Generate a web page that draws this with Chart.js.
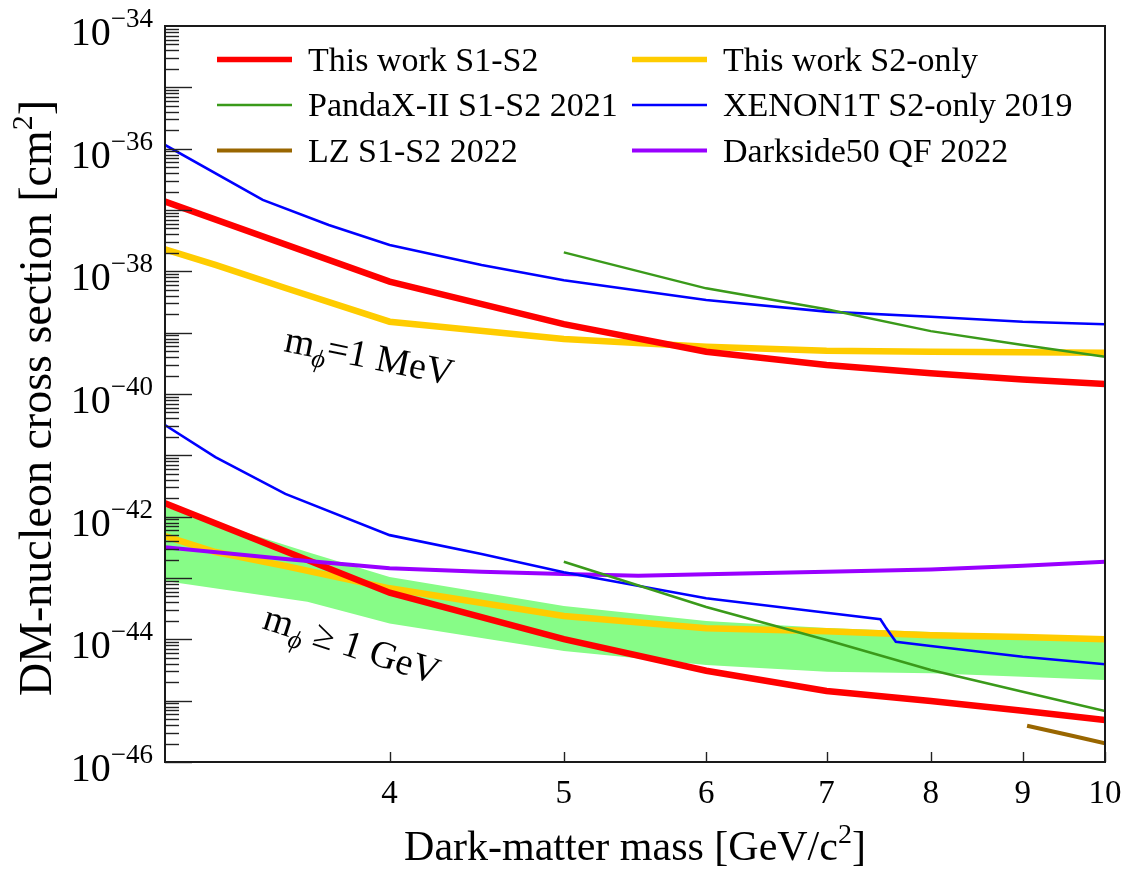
<!DOCTYPE html>
<html>
<head>
<meta charset="utf-8">
<script src="https://cdn.jsdelivr.net/npm/chart.js@4.4.0/dist/chart.umd.min.js"></script>
<style>
  html, body { margin: 0; padding: 0; background: #fff; }
  #wrap { width: 1130px; height: 875px; }
</style>
</head>
<body>
<div id="wrap"><canvas id="grafico" width="1130" height="875"></canvas></div>
<script>
// massas em GeV/c^2, secoes de choque em cm^2
const massaS1S2 = [3, 4, 5, 6, 7, 8, 9, 10];
const s1s2MeV = [1.37e-37, 6.8e-39, 1.38e-39, 4.89e-40, 2.96e-40, 2.17e-40, 1.73e-40, 1.45e-40];
const s1s2GeV = [1.65e-42, 5.75e-44, 1.01e-44, 3.08e-45, 1.44e-45, 9.86e-46, 6.86e-46, 4.83e-46];

const massaS2 = [3, 3.2, 3.5, 4, 5, 6, 7, 8, 9, 10];
const s2MeV = [2.29e-38, 1.27e-38, 5.35e-39, 1.51e-39, 7.87e-40, 5.9e-40, 5.08e-40, 4.89e-40, 4.8e-40, 4.71e-40];
const s2GeV = [4.83e-43, 2.65e-43, 1.57e-43, 6.79e-44, 2.4e-44, 1.51e-44, 1.36e-44, 1.17e-44, 1.09e-44, 1.0e-44];

const massaXenonMeV = [3, 3.4, 3.7, 4, 4.5, 5, 6, 7, 8, 9, 10];
const xenonMeV = [1.15e-36, 1.46e-37, 5.69e-38, 2.69e-38, 1.27e-38, 7.14e-39, 3.41e-39, 2.2e-39, 1.82e-39, 1.51e-39, 1.37e-39];
const massaXenonGeV = [3, 3.2, 3.5, 4, 4.5, 5, 6, 7, 7.5, 7.55, 7.65, 8, 9, 10];
const xenonGeV = [3.12e-41, 9.38e-42, 2.35e-42, 5.0e-43, 2.46e-43, 1.24e-43, 4.66e-44, 2.71e-44, 2.12e-44, 1.58e-44, 9.14e-45, 7.78e-45, 5.21e-45, 3.92e-45];

const massaPanda = [5, 6, 7, 8, 9, 10];
const pandaMeV = [2.04e-38, 5.28e-39, 2.4e-39, 1.06e-39, 6.29e-40, 4.06e-40];
const pandaGeV = [1.84e-43, 3.37e-44, 9.75e-45, 3.16e-45, 1.4e-45, 6.78e-46];

const massaLZ = [9.05, 9.6, 10];
const lzGeV = [3.9e-46, 2.65e-46, 2.01e-46];

const massaDS = [3, 3.5, 4, 4.5, 5, 5.5, 6, 7, 8, 9, 10];
const dsGeV = [3.16e-43, 2.04e-43, 1.44e-43, 1.26e-43, 1.16e-43, 1.09e-43, 1.15e-43, 1.26e-43, 1.38e-43, 1.58e-43, 1.84e-43];

// faixa de incerteza (m_phi >= 1 GeV)
const massaFaixa = [3, 3.6, 4, 5, 6, 7, 8, 9, 10];
const faixaSup = [1.44e-42, 2.65e-43, 1.04e-43, 3.49e-44, 1.99e-44, 1.53e-44, 1.32e-44, 1.17e-44, 1.09e-44];
const faixaInf = [8.93e-44, 4.1e-44, 1.82e-44, 6.45e-45, 3.81e-45, 2.96e-45, 2.79e-45, 2.46e-45, 2.17e-45];

// eixos
const xTicks = [4, 5, 6, 7, 8, 9, 10];
const yExpoentes = [-34, -36, -38, -40, -42, -44, -46];

const legendaItens = ['This work S1-S2', 'This work S2-only', 'PandaX-II S1-S2 2021',
  'XENON1T S2-only 2019', 'LZ S1-S2 2022', 'Darkside50 QF 2022'];

const serif = '"Liberation Serif", "DejaVu Serif", serif';

function pares(xs, ys) {
  return xs.map((x, i) => ({ x: x, y: ys[i] }));
}

function linha(label, xs, ys, cor, largura, ordem) {
  return {
    label: label,
    data: pares(xs, ys),
    borderColor: cor,
    backgroundColor: cor,
    borderWidth: largura,
    pointRadius: 0,
    tension: 0,
    fill: false,
    order: ordem
  };
}

// desenha texto com pedacos de tamanhos diferentes (expoentes etc)
function textoComposto(c, partes, x, y, alinhar) {
  let total = 0;
  partes.forEach(p => {
    c.font = p.fonte;
    p.w = c.measureText(p.t).width;
    total += p.w;
  });
  let px = x;
  if (alinhar === 'center') px = x - total / 2;
  if (alinhar === 'right') px = x - total;
  c.textAlign = 'left';
  partes.forEach(p => {
    c.font = p.fonte;
    c.fillText(p.t, px, y + (p.dy || 0));
    px += p.w;
  });
}

const desenhoEixos = {
  id: 'desenhoEixos',
  afterDraw(chart) {
    const c = chart.ctx;
    const a = chart.chartArea;
    const sx = chart.scales.x;
    const sy = chart.scales.y;
    c.save();

    // marcas do eixo y (decadas e subdivisoes)
    c.strokeStyle = '#222';
    c.lineWidth = 1.4;
    for (let n = -46; n < -34; n++) {
      for (let k = 1; k <= 9; k++) {
        const y = Math.round(sy.getPixelForValue(k * Math.pow(10, n))) + 0.5;
        const tam = k === 1 ? 27 : 14;
        c.beginPath();
        c.moveTo(a.left, y);
        c.lineTo(a.left + tam, y);
        c.stroke();
      }
    }
    // marcas do eixo x
    xTicks.forEach(m => {
      const x = Math.round(sx.getPixelForValue(m)) + 0.5;
      c.beginPath();
      c.moveTo(x, a.bottom);
      c.lineTo(x, a.bottom - 10);
      c.stroke();
    });

    // moldura
    c.lineWidth = 2;
    c.strokeStyle = '#1a1a1a';
    c.strokeRect(a.left, a.top, a.right - a.left, a.bottom - a.top);

    c.fillStyle = '#000';
    c.textBaseline = 'alphabetic';

    // rotulos y: 10^n
    yExpoentes.forEach(e => {
      const y = sy.getPixelForValue(Math.pow(10, e));
      const exp = '\u2212' + Math.abs(e);
      c.font = '27px ' + serif;
      const wExp = c.measureText(exp).width;
      c.textAlign = 'right';
      c.fillText(exp, 153, y + 1);
      c.font = '40px ' + serif;
      c.fillText('10', 153 - wExp, y + 19);
    });

    // rotulos x
    c.font = '33px ' + serif;
    c.textAlign = 'center';
    xTicks.forEach(m => {
      c.fillText(String(m), sx.getPixelForValue(m), a.bottom + 41);
    });

    // titulo x
    textoComposto(c, [
      { t: 'Dark-matter mass [GeV/c', fonte: '42px ' + serif },
      { t: '2', fonte: '28px ' + serif, dy: -17 },
      { t: ']', fonte: '42px ' + serif }
    ], (a.left + a.right) / 2, 860, 'center');

    // titulo y
    c.save();
    c.translate(51, 398);
    c.rotate(-Math.PI / 2);
    textoComposto(c, [
      { t: 'DM-nucleon cross section [cm', fonte: '46px ' + serif },
      { t: '2', fonte: '30px ' + serif, dy: -19 },
      { t: ']', fonte: '46px ' + serif }
    ], 0, 0, 'center');
    c.restore();

    // legenda em duas colunas
    const colX = [217, 632];
    const linY = [59.5, 105, 150.5];
    legendaItens.forEach((nome, i) => {
      const ds = chart.data.datasets.find(d => d.label === nome);
      const x0 = colX[i % 2];
      const y0 = linY[Math.floor(i / 2)];
      c.strokeStyle = ds.borderColor;
      c.lineWidth = Math.min(ds.borderWidth, 5.5);
      c.beginPath();
      c.moveTo(x0, y0);
      c.lineTo(x0 + 75, y0);
      c.stroke();
      c.font = '34px ' + serif;
      c.textAlign = 'left';
      c.fillStyle = '#000';
      c.fillText(nome, x0 + 91, y0 + 11);
    });

    // anotacoes das massas do mediador
    const normal = '38px ' + serif;
    const sub = 'italic 26px ' + serif;
    c.save();
    c.translate(283, 351);
    c.rotate(11.5 * Math.PI / 180);
    textoComposto(c, [
      { t: 'm', fonte: normal },
      { t: '\u03d5', fonte: sub, dy: 9 },
      { t: '=1 MeV', fonte: normal }
    ], 0, 0, 'left');
    c.restore();

    c.save();
    c.translate(261, 628);
    c.rotate(18 * Math.PI / 180);
    textoComposto(c, [
      { t: 'm', fonte: normal },
      { t: '\u03d5', fonte: sub, dy: 9 },
      { t: ' \u2265 1 GeV', fonte: normal }
    ], 0, 0, 'left');
    c.restore();

    c.restore();
  }
};

const verde = '#3a9a1a';

new Chart(document.getElementById('grafico').getContext('2d'), {
  type: 'line',
  data: {
    datasets: [
      {
        label: 'faixa',
        data: pares(massaFaixa, faixaSup),
        borderWidth: 0,
        borderColor: 'rgba(0,0,0,0)',
        backgroundColor: '#87fc87',
        pointRadius: 0,
        tension: 0,
        fill: '+1',
        order: 20
      },
      {
        label: 'faixa inferior',
        data: pares(massaFaixa, faixaInf),
        borderWidth: 0,
        borderColor: 'rgba(0,0,0,0)',
        pointRadius: 0,
        tension: 0,
        fill: false,
        order: 19
      },
      linha('This work S2-only', massaS2, s2MeV, '#ffcc00', 6.5, 10),
      linha('This work S2-only (GeV)', massaS2, s2GeV, '#ffcc00', 6.5, 10),
      linha('This work S1-S2', massaS1S2, s1s2MeV, '#ff0000', 6.5, 8),
      linha('This work S1-S2 (GeV)', massaS1S2, s1s2GeV, '#ff0000', 6.5, 8),
      linha('Darkside50 QF 2022', massaDS, dsGeV, '#9900ff', 4, 7),
      linha('XENON1T S2-only 2019', massaXenonMeV, xenonMeV, '#0000ff', 2.6, 6),
      linha('XENON1T S2-only 2019 (GeV)', massaXenonGeV, xenonGeV, '#0000ff', 2.6, 6),
      linha('PandaX-II S1-S2 2021', massaPanda, pandaMeV, verde, 2.5, 5),
      linha('PandaX-II S1-S2 2021 (GeV)', massaPanda, pandaGeV, verde, 2.5, 5),
      linha('LZ S1-S2 2022', massaLZ, lzGeV, '#996600', 4, 4)
    ]
  },
  options: {
    responsive: false,
    animation: false,
    devicePixelRatio: 1,
    layout: { padding: { left: 165, right: 25, top: 26, bottom: 113 } },
    plugins: {
      legend: { display: false },
      tooltip: { enabled: false }
    },
    scales: {
      x: { type: 'logarithmic', min: 3, max: 10, bounds: 'data', display: false },
      y: { type: 'logarithmic', min: 1e-46, max: 1e-34, bounds: 'data', display: false }
    }
  },
  plugins: [desenhoEixos]
});
</script>
</body>
</html>
